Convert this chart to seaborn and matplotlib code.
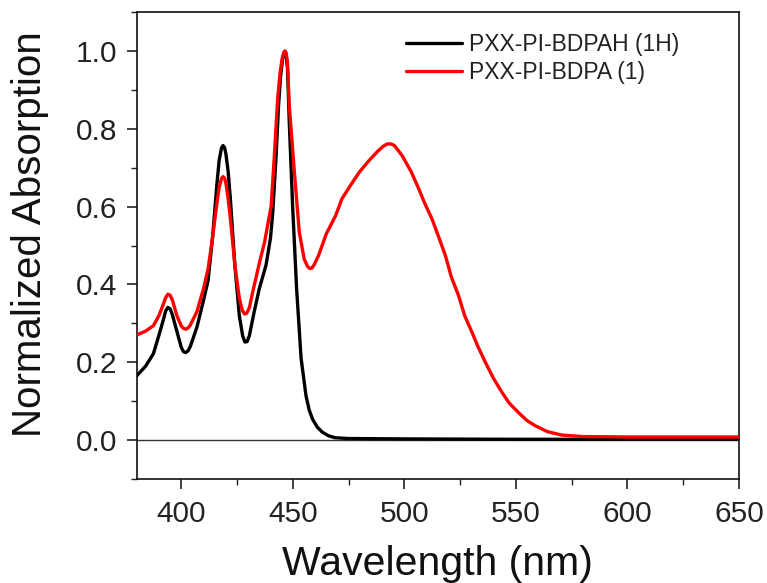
import numpy as np
import pandas as pd
import matplotlib
matplotlib.use("Agg")
import matplotlib.pyplot as plt
from matplotlib.ticker import MultipleLocator
import seaborn as sns

# ---- data ----
wl_1h = [380, 384, 387.5, 390, 392, 393, 394, 395, 396, 398, 400, 401, 402, 403, 404,
         407, 410, 412, 414, 416, 417, 418, 418.7, 419.4, 420, 421, 422, 424, 426,
         427.5, 428.5, 429.5, 430.5, 432.5, 435, 438, 440, 441, 442.5, 443.6, 444.5,
         445.3, 446, 446.5, 447, 447.6, 448.4, 449.9, 451.7, 453.7, 455.9, 457.3,
         458.8, 461, 463.3, 466, 469, 475, 500, 550, 600, 650]
abs_1h = [0.165, 0.19, 0.222, 0.27, 0.31, 0.332, 0.341, 0.337, 0.322, 0.28, 0.238,
          0.227, 0.225, 0.229, 0.24, 0.29, 0.36, 0.41, 0.52, 0.66, 0.72, 0.75, 0.757,
          0.752, 0.735, 0.69, 0.62, 0.45, 0.32, 0.268, 0.252, 0.253, 0.268, 0.325,
          0.39, 0.45, 0.52, 0.585, 0.73, 0.86, 0.935, 0.975, 0.995, 0.998, 0.99,
          0.955, 0.817, 0.602, 0.388, 0.21, 0.114, 0.078, 0.054, 0.033, 0.02, 0.011,
          0.006, 0.004, 0.003, 0.002, 0.002, 0.002]

wl_1 = [380, 384, 387.5, 390, 392, 393, 394, 395, 396, 398, 400, 401, 402, 403, 404,
        407, 410, 412, 414, 416, 417, 418, 418.7, 419.4, 420, 421, 422, 424, 426,
        427.3, 428.3, 429.3, 430.5, 432, 435, 437.3, 440.3, 441.7, 443.2, 444.3,
        445.2, 446, 446.5, 447, 447.6, 448.4, 450.7, 452.9, 455.1, 456.5, 457.5,
        458.5, 459.5, 461.5, 465, 469.2, 472, 476.7, 480, 484.1, 488, 490.5, 492.3,
        494, 495.5, 499, 503, 506.5, 509, 512.4, 515.5, 518.4, 521, 524.3, 527,
        530.3, 533, 536.3, 540, 543.7, 547, 551.1, 555, 558.6, 564, 570.4, 580, 600,
        625, 650]
abs_1 = [0.27, 0.28, 0.294, 0.32, 0.35, 0.366, 0.375, 0.372, 0.36, 0.32, 0.293, 0.287,
         0.285, 0.288, 0.295, 0.33, 0.39, 0.44, 0.52, 0.61, 0.65, 0.672, 0.677, 0.673,
         0.66, 0.62, 0.57, 0.45, 0.365, 0.334, 0.324, 0.326, 0.34, 0.38, 0.455, 0.508,
         0.602, 0.73, 0.877, 0.945, 0.98, 0.997, 1.0, 0.995, 0.97, 0.86, 0.688, 0.534,
         0.465, 0.447, 0.441, 0.442, 0.45, 0.474, 0.53, 0.577, 0.62, 0.662, 0.69,
         0.718, 0.742, 0.755, 0.761, 0.761, 0.757, 0.731, 0.69, 0.645, 0.61, 0.568,
         0.52, 0.474, 0.42, 0.371, 0.32, 0.277, 0.24, 0.20, 0.158, 0.123, 0.095,
         0.071, 0.05, 0.037, 0.022, 0.013, 0.009, 0.008, 0.008, 0.008]

series_names = ["PXX-PI-BDPAH (1H)", "PXX-PI-BDPA (1)"]
series_colors = ["#000000", "#FF0000"]

df = pd.concat([
    pd.DataFrame({"Wavelength": wl_1h, "Absorption": abs_1h, "Sample": series_names[0]}),
    pd.DataFrame({"Wavelength": wl_1, "Absorption": abs_1, "Sample": series_names[1]}),
], ignore_index=True)

sns.set_theme(style="ticks")
plt.rcParams["font.family"] = ["Liberation Sans", "DejaVu Sans"]

fig = plt.figure(figsize=(7.67, 5.83), dpi=100)
ax = fig.add_axes([0.1782, 0.1784, 0.7853, 0.8010])

ax.axhline(0, color="#333333", lw=1.0, zorder=1)
sns.lineplot(data=df, x="Wavelength", y="Absorption", hue="Sample",
             hue_order=series_names, palette=series_colors, linewidth=2.4,
             estimator=None, sort=False, ax=ax, zorder=3)
for ln in ax.get_lines():
    ln.set_solid_joinstyle("round")
    ln.set_solid_capstyle("round")

ax.set_xlim(380, 650)
ax.set_ylim(-0.1, 1.1)
ax.xaxis.set_major_locator(MultipleLocator(50))
ax.xaxis.set_minor_locator(MultipleLocator(25))
ax.yaxis.set_minor_locator(MultipleLocator(0.1))
ax.set_yticks([0.0, 0.2, 0.4, 0.6, 0.8, 1.0])
ax.set_yticklabels(["0.0", "0.2", "0.4", "0.6", "0.8", "1.0"])

ax.tick_params(axis="both", which="major", direction="out", length=7, width=1.2,
               labelsize=21.5, colors="#222222")
ax.tick_params(axis="x", which="major", pad=8)
ax.tick_params(axis="y", which="major", pad=7)
ax.tick_params(axis="both", which="minor", direction="out", length=4, width=1.0,
               colors="#222222")
ax.tick_params(top=False, right=False, which="both")

for side in ["left", "bottom", "top", "right"]:
    ax.spines[side].set_visible(True)
    ax.spines[side].set_color("#111111")
    ax.spines[side].set_linewidth(1.2)

ax.set_xlabel("Wavelength (nm)", fontsize=29.5, color="#111111")
ax.set_ylabel("Normalized Absorption", fontsize=29, color="#111111")
ax.xaxis.set_label_coords(0.5, -0.141)
ax.yaxis.set_label_coords(-0.146, 0.524)

leg = ax.legend(loc="upper left", bbox_to_anchor=(0.447, 0.954), frameon=False,
                fontsize=16.5, handlelength=2.45, handletextpad=0.3,
                borderpad=0, borderaxespad=0, labelspacing=0.2)
for line in leg.get_lines():
    line.set_linewidth(2.4)
for t in leg.get_texts():
    t.set_color("#222222")

fig.savefig("out.png", dpi=100)
